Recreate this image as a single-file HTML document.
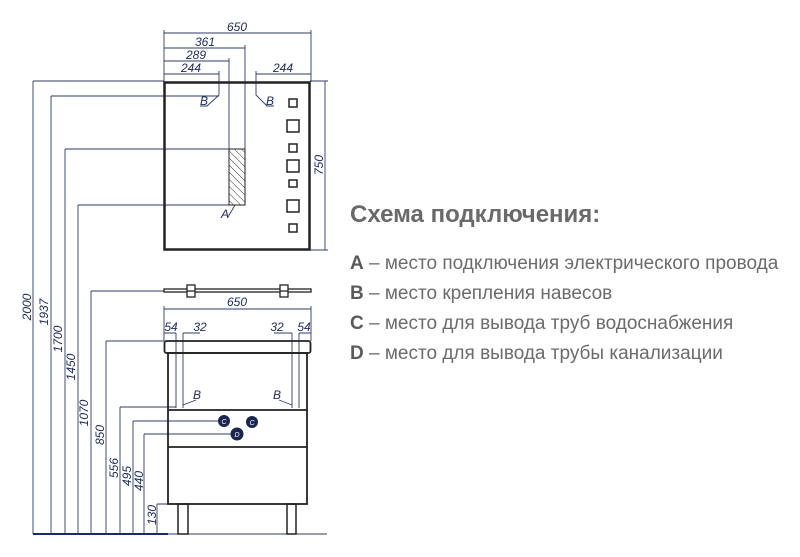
<!DOCTYPE html>
<html><head><meta charset="utf-8"><style>
body{margin:0;background:#fff;width:800px;height:557px;overflow:hidden}
svg{position:absolute;left:0;top:0}
.t{position:absolute;font-family:"Liberation Sans Narrow","Liberation Sans",sans-serif;color:#6b6b6b;white-space:nowrap}
.t b{color:#5a5a5a}
</style></head><body>
<svg width="800" height="557" viewBox="0 0 800 557">
<defs><pattern id="h" width="5" height="5" patternUnits="userSpaceOnUse" patternTransform="rotate(-45)"><line x1="0" y1="0" x2="0" y2="5" stroke="#333" stroke-width="1"/></pattern></defs>
<g stroke="#2d3b6b" stroke-width="0.9" fill="none">
<path d="M164 33H311M164 48H245M164 61H229M164 74H219M256 74H311"/>
<path d="M164 30V82M311 30V82M245 45V149M229 58V149M219 71V95L207 106H200M256 71V95L267 106H274"/>
<path d="M325 81V250M310 81H328M310 250H328"/>
<path d="M33 81H164M33 81V534M51 96H219M51 96V534M65 149H229M65 149V534M78 205H229M78 205V534"/>
<path d="M235 205L228 217"/>
<path d="M91 291H164M91 291V534M106 341H164M106 341V534M120 407H176M120 407V534M133 421H220M133 421V534M144 434H232M144 434V534M157 504H168M157 504V534"/>
<path d="M33 534H327"/>
<path d="M164 309H311M164 306V341M311 306V341M164 333H176M183 333H200M274 333H292M299 333H311"/>
<path d="M176 333V408M183 333V408M292 333V408M299 333V408M183 405L196 400M292 405L279 400"/>
</g>
<path d="M33 534H168" stroke="#1a2a6a" stroke-width="2"/>
<rect x="164.5" y="82.5" width="145" height="167" fill="none" stroke="#222" stroke-width="2.5"/>
<rect x="229" y="149" width="16" height="56" fill="url(#h)" stroke="#222" stroke-width="1"/>
<g fill="none" stroke="#222" stroke-width="1.5">
<rect x="289" y="99" width="8" height="8"/><rect x="287" y="120" width="12" height="12"/>
<rect x="289" y="144" width="8" height="8"/><rect x="287" y="160" width="12" height="12"/>
<rect x="289" y="180" width="8" height="7"/><rect x="287" y="200" width="12" height="12"/>
<rect x="289" y="224" width="8" height="8"/>
</g>
<rect x="164" y="289" width="147" height="3" fill="#fff" stroke="#222" stroke-width="1.3"/>
<rect x="187" y="285" width="8" height="12" fill="#fff" stroke="#222" stroke-width="1.3"/>
<rect x="280" y="285" width="8" height="12" fill="#fff" stroke="#222" stroke-width="1.3"/>
<path d="M187 291H195M280 291H288" stroke="#222" stroke-width="1.3"/>
<rect x="164.5" y="341" width="146" height="12" rx="2" fill="none" stroke="#222" stroke-width="1.8"/>
<rect x="168" y="353" width="139" height="151" fill="none" stroke="#222" stroke-width="1.8"/>
<path d="M168 410H307M168 447H307" stroke="#222" stroke-width="1.8"/>
<rect x="178" y="504" width="10" height="30" fill="none" stroke="#222" stroke-width="1.5"/>
<rect x="287" y="504" width="9" height="30" fill="none" stroke="#222" stroke-width="1.5"/>
<g fill="#1a2550"><circle cx="224" cy="421" r="6"/><circle cx="252" cy="422" r="6"/><circle cx="237" cy="434" r="6.5"/></g>
<g font-family="Liberation Sans Narrow,Liberation Sans,sans-serif" font-style="italic" font-size="7" fill="#fff" text-anchor="middle"><text x="224" y="424">C</text><text x="252" y="425">C</text><text x="237" y="437">D</text></g>
<g font-family="Liberation Sans Narrow,Liberation Sans,sans-serif" font-style="italic" font-size="12" fill="#1f2d60" text-anchor="middle">
<text x="237" y="31">650</text><text x="205" y="46">361</text><text x="196" y="59">289</text><text x="191" y="72">244</text><text x="283" y="72">244</text>
<text x="204" y="105">B</text><text x="270" y="105">B</text><text x="225" y="218">A</text>
<text x="237" y="306">650</text><text x="171" y="331">54</text><text x="200" y="331">32</text><text x="277" y="331">32</text><text x="304" y="331">54</text>
<text x="197" y="399">B</text><text x="277" y="399">B</text>
<text transform="translate(323,165) rotate(-90)">750</text>
<text transform="translate(31,307) rotate(-90)">2000</text>
<text transform="translate(48,312) rotate(-90)">1937</text>
<text transform="translate(62,339) rotate(-90)">1700</text>
<text transform="translate(75,367) rotate(-90)">1450</text>
<text transform="translate(88,413) rotate(-90)">1070</text>
<text transform="translate(104,435) rotate(-90)">850</text>
<text transform="translate(118,468) rotate(-90)">556</text>
<text transform="translate(131,476) rotate(-90)">495</text>
<text transform="translate(143,481) rotate(-90)">440</text>
<text transform="translate(156,515) rotate(-90)">130</text>
</g>
</svg>
<div class="t" style="left:350px;top:201px;font-size:24px;font-weight:bold;color:#6a6a6a">Схема подключения:</div>
<div class="t" style="left:350px;top:253px;font-size:19px"><b>A</b> – место подключения электрического провода</div>
<div class="t" style="left:350px;top:283px;font-size:19px"><b>B</b> – место крепления навесов</div>
<div class="t" style="left:350px;top:313px;font-size:19px"><b>C</b> – место для вывода труб водоснабжения</div>
<div class="t" style="left:350px;top:343px;font-size:19px"><b>D</b> – место для вывода трубы канализации</div>
</body></html>
